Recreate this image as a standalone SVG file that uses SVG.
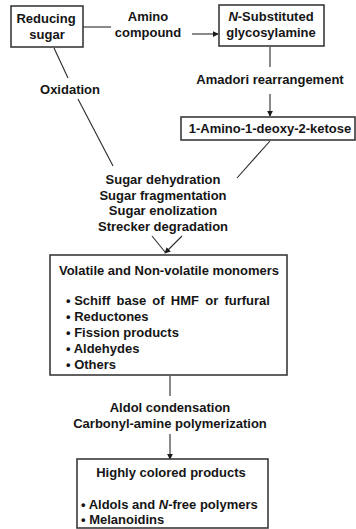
<svg xmlns="http://www.w3.org/2000/svg" width="356" height="529" viewBox="0 0 356 529">
<defs>
<style>
.box{fill:#fff;stroke:#3a3a3a;stroke-width:1.6}
.t{font-family:"Liberation Sans",Arial,sans-serif;font-weight:bold;font-size:13px;fill:#151515}
.c{text-anchor:middle}
.ln{stroke:#2a2a2a;stroke-width:1.1;fill:none}
</style>
<marker id="ah" viewBox="0 0 8 8" refX="7" refY="4" markerWidth="6" markerHeight="6" orient="auto" markerUnits="userSpaceOnUse">
<path d="M0,0 L8,4 L0,8 z" fill="#1a1a1a"/>
</marker>
</defs>
<rect width="356" height="529" fill="#fff"/>
<g id="connectors">
<line class="ln" x1="83" y1="27" x2="111" y2="27"/>
<line class="ln" x1="192" y1="34" x2="218" y2="34" marker-end="url(#ah)"/>
<line class="ln" x1="270" y1="47" x2="270" y2="67"/>
<line class="ln" x1="270" y1="94" x2="270" y2="116" marker-end="url(#ah)"/>
<line class="ln" x1="54" y1="48" x2="68" y2="78"/>
<line class="ln" x1="78" y1="99" x2="113" y2="166"/>
<line class="ln" x1="270" y1="141" x2="237" y2="178"/>
<line class="ln" x1="152" y1="236" x2="165" y2="252"/>
<line class="ln" x1="182" y1="236" x2="165" y2="253" marker-end="url(#ah)"/>
<line class="ln" x1="170" y1="376" x2="170" y2="396"/>
<line class="ln" x1="170" y1="434" x2="170" y2="459" marker-end="url(#ah)"/>
</g>
<g id="reducing-sugar">
<rect class="box" x="11" y="6" width="72" height="41"/>
<text class="t c" x="46" y="23">Reducing</text>
<text class="t c" x="47" y="39">sugar</text>
</g>
<g id="amino-compound">
<text class="t c" x="148" y="21">Amino</text>
<text class="t c" x="148" y="37">compound</text>
</g>
<g id="glycosylamine">
<rect class="box" x="219" y="5" width="105" height="41"/>
<text class="t c" x="271" y="21"><tspan font-style="italic">N</tspan>-Substituted</text>
<text class="t c" x="271" y="37">glycosylamine</text>
</g>
<g id="amadori">
<text class="t c" x="270" y="84">Amadori rearrangement</text>
</g>
<g id="oxidation">
<text class="t c" x="70" y="94">Oxidation</text>
</g>
<g id="ketose">
<rect class="box" x="181" y="117" width="174" height="23"/>
<text class="t c" x="270" y="133">1-Amino-1-deoxy-2-ketose</text>
</g>
<g id="reactions">
<text class="t c" x="163" y="184">Sugar dehydration</text>
<text class="t c" x="163" y="200">Sugar fragmentation</text>
<text class="t c" x="163" y="215">Sugar enolization</text>
<text class="t c" x="163" y="231">Strecker degradation</text>
</g>
<g id="monomers">
<rect class="box" x="50" y="255" width="237" height="120"/>
<text class="t c" x="169" y="275">Volatile and Non-volatile monomers</text>
<text class="t" x="66" y="305">• <tspan word-spacing="2.6">Schiff base of HMF or furfural</tspan></text>
<text class="t" x="66" y="321">• Reductones</text>
<text class="t" x="66" y="337">• Fission products</text>
<text class="t" x="66" y="353">• Aldehydes</text>
<text class="t" x="66" y="369">• Others</text>
</g>
<g id="condensation">
<text class="t c" x="170" y="412">Aldol condensation</text>
<text class="t c" x="170" y="428">Carbonyl-amine polymerization</text>
</g>
<g id="colored-products">
<rect class="box" x="77" y="459" width="191" height="69"/>
<text class="t c" x="171" y="477">Highly colored products</text>
<text class="t" x="81" y="509">• Aldols and <tspan font-style="italic">N</tspan>-free polymers</text>
<text class="t" x="81" y="524">• Melanoidins</text>
</g>
</svg>
